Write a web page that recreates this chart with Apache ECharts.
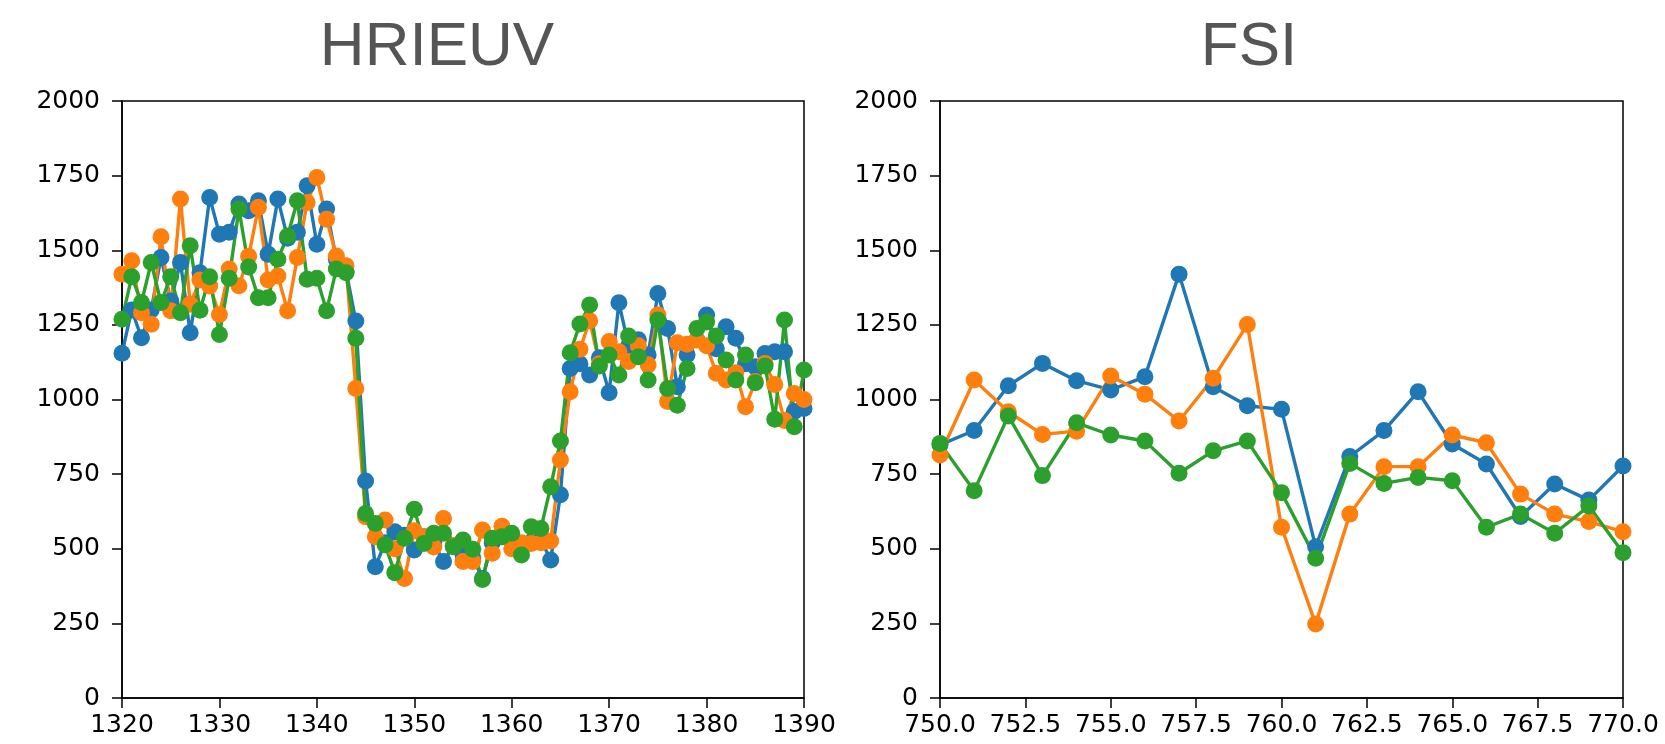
<!DOCTYPE html>
<html>
<head>
<meta charset="utf-8">
<script src="https://cdn.jsdelivr.net/npm/echarts@6/dist/echarts.min.js"></script>
<style>
html, body { margin: 0; padding: 0; background: #fff; }
#chart { width: 1665px; height: 744px; }
</style>
</head>
<body>
<div id="chart"></div>
<script>
// left panel: HRIEUV, x = 1320..1390
const leftStart = 1320;
const leftBlue = [1155,1300,1207,1300,1476,1330,1459,1224,1425,1677,1554,1560,1655,1632,1666,1487,1672,1540,1560,1716,
  1520,1638,1470,1430,1263,727,440,520,557,545,496,540,520,457,510,480,470,400,520,540,
  530,500,520,530,462,681,1104,1120,1082,1140,1023,1324,1180,1200,1150,1355,1238,1043,1150,1200,
  1283,1170,1244,1205,1120,1110,1154,1160,1160,960,970];
const leftOrange = [1420,1465,1291,1252,1545,1297,1672,1319,1400,1380,1285,1437,1381,1480,1644,1400,1414,1297,1476,1660,
  1744,1604,1481,1448,1037,607,540,596,500,400,560,540,506,601,510,457,457,563,485,575,
  500,520,518,520,526,797,1026,1168,1264,1120,1194,1160,1127,1180,1116,1283,993,1190,1185,1199,
  1180,1088,1065,1090,976,1060,1121,1050,930,1020,1000];
const leftGreen = [1269,1411,1325,1459,1325,1411,1291,1515,1299,1411,1218,1406,1638,1444,1341,1341,1470,1548,1666,1403,
  1406,1297,1437,1425,1205,618,585,513,420,535,632,518,552,552,507,529,498,397,535,540,
  552,479,574,568,708,861,1157,1253,1317,1112,1149,1082,1213,1143,1065,1266,1037,981,1104,1238,
  1260,1213,1132,1065,1149,1056,1112,934,1266,909,1099];

// right panel: FSI, x = 750..770
const rightStart = 750;
const rightBlue = [848,896,1046,1121,1063,1032,1076,1420,1043,979,967,507,809,896,1026,851,784,608,717,663,777];
const rightOrange = [814,1065,959,883,894,1079,1018,928,1071,1251,572,248,616,775,775,881,855,683,616,591,557];
const rightGreen = [853,694,945,745,922,881,861,753,828,861,688,468,786,719,739,728,572,616,552,643,487];

const titles = ['HRIEUV', 'FSI'];
const colors = ['#1f77b4', '#ff7f0e', '#2ca02c'];

function pairs(start, arr) {
  return arr.map((v, i) => [start + i, v]);
}

const chart = echarts.init(document.getElementById('chart'));

const grids = [
  { left: 122, top: 101, width: 682, height: 597 },
  { left: 940, top: 101, width: 683, height: 597 }
];

const tickFont = { color: '#000', fontSize: 25, fontFamily: 'DejaVu Sans' };

function xAxisCfg(idx, min, max, interval, fmt) {
  return {
    type: 'value', gridIndex: idx, min: min, max: max, interval: interval,
    axisLine: { show: true, onZero: false, lineStyle: { color: '#000', width: 1.5 } },
    axisTick: { show: true, length: 10, lineStyle: { color: '#000', width: 1.5 } },
    axisLabel: Object.assign({ margin: 15, formatter: fmt }, tickFont),
    splitLine: { show: false }
  };
}
function yAxisCfg(idx) {
  return {
    type: 'value', gridIndex: idx, min: 0, max: 2000, interval: 250,
    axisLine: { show: true, lineStyle: { color: '#000', width: 1.5 } },
    axisTick: { show: true, length: 10, lineStyle: { color: '#000', width: 1.5 } },
    axisLabel: Object.assign({ margin: 22, formatter: v => String(v) }, tickFont),
    splitLine: { show: false }
  };
}

function lineSeries(idx, data, color) {
  return {
    type: 'line', xAxisIndex: idx, yAxisIndex: idx,
    data: data, symbol: 'circle', symbolSize: 17, showSymbol: true,
    lineStyle: { color: color, width: 3.4 },
    itemStyle: { color: color, borderWidth: 0 },
    clip: true, animation: false
  };
}

const titleStyle = { fontSize: 62, fontFamily: 'Liberation Sans', fill: '#555', textAlign: 'center', textVerticalAlign: 'middle' };

const option = {
  animation: false,
  graphic: [
    { type: 'text', x: 437, y: 48, style: Object.assign({ text: titles[0] }, titleStyle) },
    { type: 'text', x: 1249, y: 48, style: Object.assign({ text: titles[1] }, titleStyle) }
  ],
  grid: grids.map(g => Object.assign({ show: true, borderColor: '#000', borderWidth: 1.5, backgroundColor: '#fff' }, g)),
  xAxis: [
    xAxisCfg(0, 1320, 1390, 10, v => String(v)),
    xAxisCfg(1, 750, 770, 2.5, v => v.toFixed(1))
  ],
  yAxis: [yAxisCfg(0), yAxisCfg(1)],
  series: [
    lineSeries(0, pairs(leftStart, leftBlue), colors[0]),
    lineSeries(0, pairs(leftStart, leftOrange), colors[1]),
    lineSeries(0, pairs(leftStart, leftGreen), colors[2]),
    lineSeries(1, pairs(rightStart, rightBlue), colors[0]),
    lineSeries(1, pairs(rightStart, rightOrange), colors[1]),
    lineSeries(1, pairs(rightStart, rightGreen), colors[2])
  ]
};

chart.setOption(option);
</script>
</body>
</html>
